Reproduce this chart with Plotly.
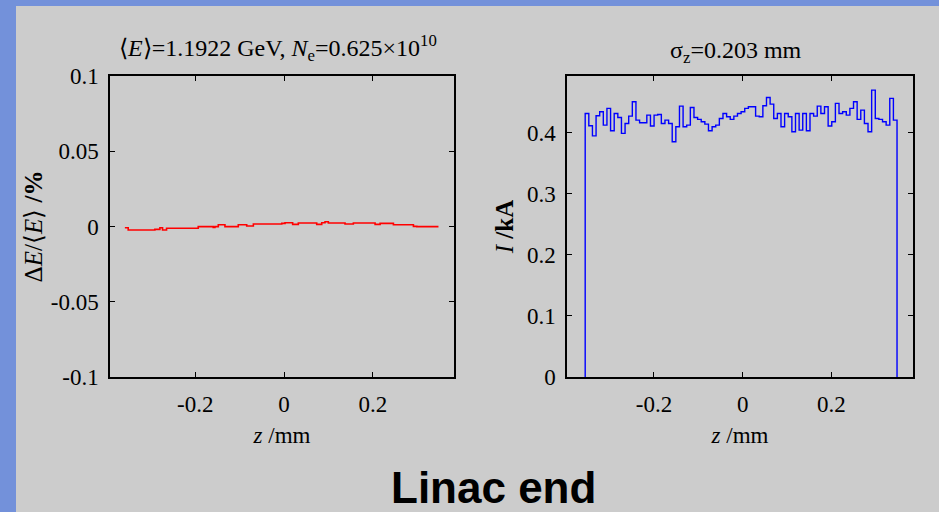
import numpy as np
import plotly.graph_objects as go

# ---------------- data ----------------
# left panel: relative energy deviation (step line)
de_z = [-0.3585, -0.351, -0.2909, -0.2796, -0.2736, -0.2646, -0.1932, -0.1594, -0.1556,
        -0.148, -0.133, -0.103, -0.084, -0.069, -0.005, 0.0023, 0.0195, 0.0323, 0.0737,
        0.085, 0.0924, 0.0999, 0.1375, 0.1563, 0.2052, 0.2165, 0.239, 0.2465, 0.2916,
        0.2992, 0.348]
de_val = [-0.0008, -0.0023, -0.0019, -0.0008, -0.0023, -0.0012, -0.0001, -0.0006, -0.0001,
          0.0012, -0.0001, 0.0012, 0.0003, 0.0017, 0.0021, 0.0025, 0.0014, 0.0023, 0.0014,
          0.0025, 0.0032, 0.0023, 0.0017, 0.0023, 0.0014, 0.0021, 0.0021, 0.0012, 0.0001,
          -0.0001, -0.0001]

# right panel: current histogram (kA)
hist_z_min = -0.355
hist_z_max = 0.348
hist_I = [0.4317, 0.4115, 0.395, 0.4278, 0.4344, 0.4126, 0.4399, 0.4033, 0.4317, 0.4251,
          0.399, 0.4153, 0.4273, 0.4508, 0.4208, 0.4164, 0.4164, 0.4289, 0.411, 0.4289,
          0.43, 0.4153, 0.4208, 0.4153, 0.3853, 0.4098, 0.4437, 0.4098, 0.4126, 0.4415,
          0.4251, 0.4219, 0.418, 0.4142, 0.4033, 0.4098, 0.4126, 0.4235, 0.4317, 0.4262,
          0.4219, 0.4273, 0.4317, 0.4344, 0.4399, 0.4426, 0.4426, 0.4273, 0.4262, 0.4442,
          0.4579, 0.447, 0.4235, 0.4317, 0.4098, 0.4317, 0.4262, 0.4017, 0.4317, 0.4044,
          0.4317, 0.4033, 0.4317, 0.4273, 0.4437, 0.4317, 0.4426, 0.411, 0.418, 0.4481,
          0.4317, 0.4344, 0.4289, 0.4399, 0.4508, 0.4219, 0.4371, 0.4153, 0.4017, 0.4699,
          0.4235, 0.4219, 0.418, 0.4126, 0.4563, 0.4208]

x_tickvals = [-0.2, 0, 0.2]
x_ticktext = ["-0.2", "0", "0.2"]
yl_tickvals = [-0.1, -0.05, 0, 0.05, 0.1]
yl_ticktext = ["-0.1", "-0.05", "0", "0.05", "0.1"]
yr_tickvals = [0, 0.1, 0.2, 0.3, 0.4]
yr_ticktext = ["0", "0.1", "0.2", "0.3", "0.4"]

# ---------------- figure ----------------
W, H = 939, 512
SERIF = "Liberation Serif, Times New Roman, serif"

edges = np.linspace(hist_z_min, hist_z_max, len(hist_I) + 1)
hx = [edges[0]] + list(edges[:-1]) + [edges[-1]]
hy = [0] + list(hist_I) + [0]

fig = go.Figure()
fig.add_trace(go.Scatter(x=de_z, y=de_val, mode="lines", line=dict(color="#ff0000", width=1.6, shape="hv"),
                         xaxis="x", yaxis="y", showlegend=False, hoverinfo="skip"))
fig.add_trace(go.Scatter(x=hx, y=hy, mode="lines", line=dict(color="#0000ff", width=1.4, shape="hv"),
                         xaxis="x2", yaxis="y2", showlegend=False, hoverinfo="skip"))

def px_x(p):
    return p / W

def px_y(p):
    return 1 - p / H

axis_common = dict(showline=True, linecolor="black", linewidth=1.5, mirror="ticks", ticks="inside",
                   ticklen=5, tickwidth=1.2, tickcolor="black", showgrid=False, zeroline=False,
                   automargin=False,
                   tickfont=dict(family=SERIF, size=23, color="black"))

fig.update_layout(
    width=W, height=H, margin=dict(l=0, r=0, t=0, b=0, pad=0),
    paper_bgcolor="#7391da", plot_bgcolor="white",
    xaxis=dict(domain=[px_x(110), px_x(454)], range=[-0.392, 0.383], anchor="y",
               tickvals=x_tickvals, ticktext=x_ticktext, ticklabelstandoff=6,
               title=dict(text="<i>z</i> /mm", font=dict(family=SERIF, size=23, color="black"), standoff=11),
               **axis_common),
    yaxis=dict(domain=[px_y(377), px_y(76)], range=[-0.1, 0.1], anchor="x",
               tickvals=yl_tickvals, ticktext=yl_ticktext, ticklabelstandoff=5,
               title=dict(text="Δ<i>E</i>/⟨<i>E</i>⟩ <b>/%</b>", font=dict(family=SERIF, size=25, color="black"),
                          standoff=1),
               **axis_common),
    xaxis2=dict(domain=[px_x(567), px_x(913)], range=[-0.396, 0.384], anchor="y2",
                tickvals=x_tickvals, ticktext=x_ticktext, ticklabelstandoff=6,
                title=dict(text="<i>z</i> /mm", font=dict(family=SERIF, size=23, color="black"), standoff=11),
                **axis_common),
    yaxis2=dict(domain=[px_y(377), px_y(76)], range=[0, 0.493], anchor="x2",
                tickvals=yr_tickvals, ticktext=yr_ticktext, ticklabelstandoff=5,
                title=dict(text="<i>I</i> <b>/kA</b>", font=dict(family=SERIF, size=25, color="black"),
                           standoff=6),
                **axis_common),
    shapes=[dict(type="rect", xref="paper", yref="paper", x0=px_x(16), x1=1.0, y0=0, y1=px_y(6),
                 fillcolor="#cccccc", line=dict(width=0), layer="below")],
    annotations=[
        dict(text="⟨<i>E</i>⟩=1.1922 GeV, <i>N</i><sub>e</sub>=0.625×10<sup>10</sup>",
             x=px_x(278), y=px_y(48), xref="paper", yref="paper", showarrow=False,
             xanchor="center", yanchor="middle", font=dict(family=SERIF, size=24, color="black")),
        dict(text="σ<sub>z</sub>=0.203 mm",
             x=px_x(736), y=px_y(52), xref="paper", yref="paper", showarrow=False,
             xanchor="center", yanchor="middle", font=dict(family=SERIF, size=24, color="black")),
        dict(text="<b>Linac end</b>",
             x=px_x(493), y=px_y(487), xref="paper", yref="paper", showarrow=False,
             xanchor="center", yanchor="middle", height=44, valign="middle",
             font=dict(family="Liberation Sans, Arial, sans-serif", size=44, color="black")),
    ],
)

fig.write_html("out.html", config={"displayModeBar": False},
               post_script="document.body.style.margin='0px';document.body.style.overflow='hidden';")
